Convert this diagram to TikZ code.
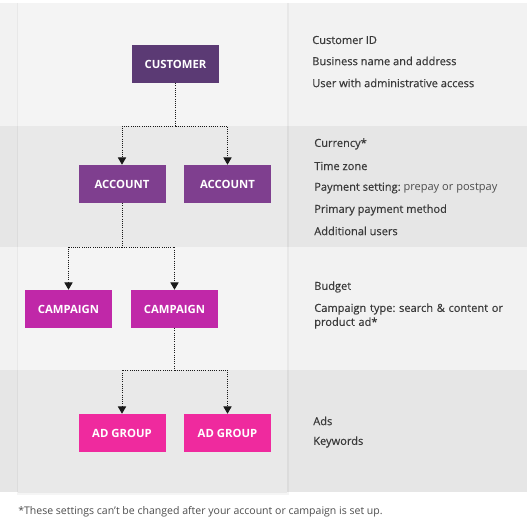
\documentclass[tikz,border=0pt]{standalone}
\usepackage{fontspec}
\setmainfont{Open Sans}
\newfontfamily\semib[FakeBold=0.35]{Open Sans}
\usetikzlibrary{arrows.meta}
\definecolor{bandlight}{HTML}{F2F2F2}
\definecolor{banddark}{HTML}{E6E6E6}
\definecolor{panellight}{HTML}{F4F4F4}
\definecolor{paneldark}{HTML}{E9E9E9}
\definecolor{cCustomer}{HTML}{5B3A74}
\definecolor{cAccount}{HTML}{7F3F8F}
\definecolor{cCampaign}{HTML}{C028A8}
\definecolor{cAdgroup}{HTML}{EF2A9E}
\definecolor{txt}{HTML}{3A3A3A}
\definecolor{txtlight}{HTML}{4E4E4E}
\tikzset{
  box/.style={minimum width=87*0.75pt, minimum height=38*0.75pt, inner sep=0pt,
    text=white, font=\fontsize{8.5}{10}\selectfont\bfseries},
  info/.style={anchor=west, inner sep=0pt, text=txt, font=\fontsize{8.3}{10.5}\semib\frenchspacing},
  link/.style={densely dotted, line width=0.65pt, draw=black!90},
  arr/.style={link, -{Triangle[width=6.2pt,length=5.5pt]}},
}
\begin{document}
\begin{tikzpicture}[x=0.75pt,y=-0.75pt]
\useasboundingbox (0,0) rectangle (527,528);
\fill[white] (0,0) rectangle (527,528);
% bands
\fill[bandlight] (0,3) rectangle (527,126);
\fill[banddark] (0,126) rectangle (527,247);
\fill[bandlight] (0,247) rectangle (527,370);
\fill[banddark] (0,370) rectangle (527,492);
% panel shadow and panel
\fill[black,opacity=0.04] (17,3) rectangle (289,495);
\fill[panellight] (18,3) rectangle (287,126);
\fill[paneldark] (18,126) rectangle (287,247);
\fill[panellight] (18,247) rectangle (287,370);
\fill[paneldark] (18,370) rectangle (287,493);
% nodes
\node[box, fill=cCustomer] (cust) at (175.5,64) {CUSTOMER};
\node[box, fill=cAccount] (acc1) at (122,184) {ACCOUNT};
\node[box, fill=cAccount] (acc2) at (227.5,184) {ACCOUNT};
\node[box, fill=cCampaign] (cam1) at (68.5,309) {CAMPAIGN};
\node[box, fill=cCampaign] (cam2) at (174.5,309) {CAMPAIGN};
\node[box, fill=cAdgroup] (ad1) at (122,433) {AD GROUP};
\node[box, fill=cAdgroup] (ad2) at (227.5,433) {AD GROUP};
% junctions
\coordinate (j1) at (175.5,126);
\coordinate (j2) at (122,247);
\coordinate (j3) at (174.5,370);
\draw[link] (cust.south) -- (j1);
\draw[arr] (j1) -| (acc1.north);
\draw[arr] (j1) -| (acc2.north);
\draw[link] (acc1.south) -- (j2);
\draw[arr] (j2) -| (cam1.north);
\draw[arr] (j2) -| (cam2.north);
\draw[link] (cam2.south) -- (j3);
\draw[arr] (j3) -| (ad1.north);
\draw[arr] (j3) -| (ad2.north);
% info texts
\node[info] (t1) at (312,40) {Customer ID};
\node[info] (t2) at (312,61) {Business name and address};
\node[info] (t3) at (312,83) {User with administrative access};
\node[info] (t4) at (314,144) {Currency*};
\node[info] (t5) at (314,166) {Time zone};
\node[info] (t6) at (314,188) {Payment setting: \textcolor{txtlight}{\rmfamily prepay or postpay}};
\node[info] (t7) at (314,210) {Primary payment method};
\node[info] (t8) at (314,231) {Additional users};
\node[info] (t9) at (314,287) {Budget};
\node[info, align=left, text width=210*0.75pt] (t10) at (314,316) {Campaign type: search \& content or\\product ad*};
\node[info] (t11) at (313,421) {Ads};
\node[info] (t12) at (313,442) {Keywords};
\node[anchor=west, inner sep=0pt, text=txtlight, font=\fontsize{7.9}{10}\selectfont\frenchspacing] (fn) at (18,512) {*These settings can't be changed after your account or campaign is set up.};
\end{tikzpicture}
\end{document}
